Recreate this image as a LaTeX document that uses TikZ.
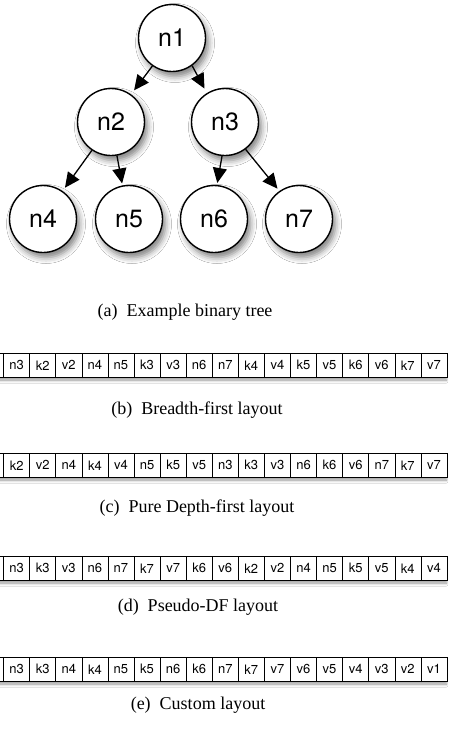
\documentclass[tikz,border=0pt]{standalone}
\usepackage{fontspec}
\setmainfont{Liberation Serif}
\newfontfamily\labelfont{TeX Gyre Heros}
\usetikzlibrary{arrows.meta,shadows.blur}

\newcommand{\layoutrow}[3]{%
  % #1 = name prefix, #2 = top y, #3 = cell labels
  \path[fill=white,blur shadow={shadow xshift=0pt,shadow yshift=-3pt,shadow blur radius=3pt}]
    (-10,#2) rectangle (446.7,#2+24);
  \draw[line width=0.6pt] (-10,#2) rectangle (3.3,#2+24);
  \foreach \t [count=\i from 0] in {#3}
    \node[cell] (#1\i) at (3.3+\i*26.08,#2) {\t};
}

\begin{document}
\begin{tikzpicture}[x=1pt,y=-1pt,
  treenode/.style={circle,draw,line width=1.4pt,fill=white,minimum size=67pt,inner sep=0pt,
    font=\labelfont\fontsize{25}{25}\selectfont,
    blur shadow={shadow xshift=3pt,shadow yshift=-5pt,shadow blur radius=6pt,shadow opacity=50}},
  edge/.style={-{Triangle[length=15pt,width=14pt]},line width=1.3pt},
  cell/.style={draw,line width=0.6pt,fill=white,minimum width=26.08pt,minimum height=24pt,
    inner sep=0pt,anchor=north west,font=\labelfont\fontsize{13}{13}\selectfont},
  caption/.style={font=\fontsize{18}{18}\selectfont}]

\useasboundingbox (0,0) rectangle (448,742);
\clip (0,0) rectangle (448,742);
\fill[white] (0,0) rectangle (448,742);

% binary tree
\node[treenode] (n1) at (172,38) {n1};
\node[treenode] (n2) at (111,122) {n2};
\node[treenode] (n3) at (225,122) {n3};
\node[treenode] (n4) at (43,219) {n4};
\node[treenode] (n5) at (129,219) {n5};
\node[treenode] (n6) at (214,219) {n6};
\node[treenode] (n7) at (299,219) {n7};

\draw[edge,shorten >=5pt] (n1.235) -- (n2.54);
\draw[edge,shorten >=5pt] (n1.306) -- (n3.122);
\draw[edge,shorten >=4pt] (n2.236) -- (n4.55);
\draw[edge,shorten >=2pt] (n2.280) -- (n5.101);
\draw[edge,shorten >=2pt] (n3.265) -- (n6.85);
\draw[edge,shorten >=3pt] (n3.307) -- (n7.125);

\node[caption] (capa) at (185,312) {(a)\enspace Example binary tree};

% memory layouts
\layoutrow{b}{353}{n3,k2,v2,n4,n5,k3,v3,n6,n7,k4,v4,k5,v5,k6,v6,k7,v7}
\node[caption] (capb) at (197,410) {(b)\enspace Breadth-first layout};

\layoutrow{c}{453}{k2,v2,n4,k4,v4,n5,k5,v5,n3,k3,v3,n6,k6,v6,n7,k7,v7}
\node[caption] (capc) at (197,508) {(c)\enspace Pure Depth-first layout};

\layoutrow{d}{556}{n3,k3,v3,n6,n7,k7,v7,k6,v6,k2,v2,n4,n5,k5,v5,k4,v4}
\node[caption] (capd) at (198,607) {(d)\enspace Pseudo-DF layout};

\layoutrow{e}{657}{n3,k3,n4,k4,n5,k5,n6,k6,n7,k7,v7,v6,v5,v4,v3,v2,v1}
\node[caption] (cape) at (198,705) {(e)\enspace Custom layout};
\end{tikzpicture}
\end{document}
